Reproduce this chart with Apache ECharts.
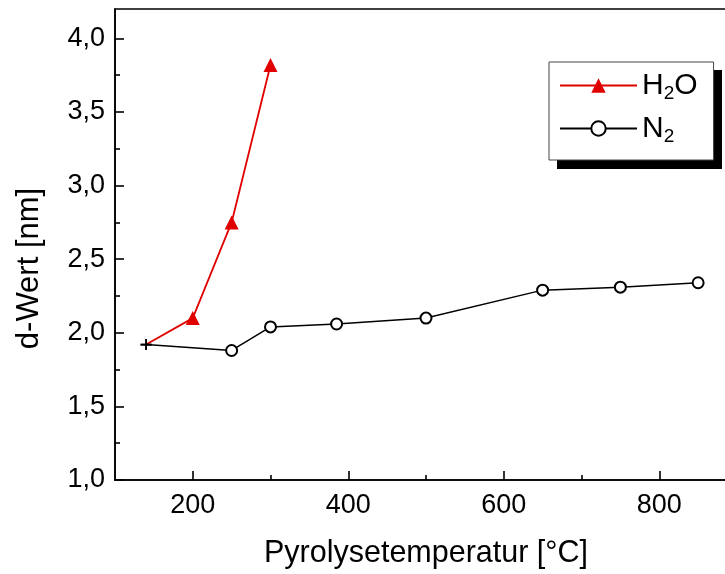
<!DOCTYPE html>
<html>
<head>
<meta charset="utf-8">
<script src="https://cdn.jsdelivr.net/npm/echarts@6/dist/echarts.min.js"></script>
<style>
html,body{margin:0;padding:0;background:#fff;}
#chart{width:725px;height:574px;}
</style>
</head>
<body>
<div id="chart"></div>
<script>
// Data
const h2oTemp = [140, 200, 250, 300];
const h2oD = [1.92, 2.10, 2.75, 3.82];
const n2Temp = [140, 250, 300, 385, 500, 650, 750, 850];
const n2D = [1.92, 1.88, 2.04, 2.06, 2.10, 2.29, 2.31, 2.34];
const xMajorTicks = [200, 400, 600, 800];
const xMinorTicks = [300, 500, 700];
const yMajorTicks = [1.0, 1.5, 2.0, 2.5, 3.0, 3.5, 4.0];
const yMinorTicks = [1.25, 1.75, 2.25, 2.75, 3.25, 3.75];
const seriesNames = ['H2O', 'N2'];

const plusPath = 'path://M0,5 L10,5 M5,0 L5,10';
const font = 'Liberation Sans, Arial, sans-serif';

function buildData(xs, ys, firstSymbol) {
  return xs.map((x, i) => {
    const item = { value: [x, ys[i]] };
    if (i === 0) {
      item.symbol = firstSymbol;
      item.symbolSize = 11;
      item.itemStyle = { color: '#000', borderColor: '#000', borderWidth: 1.6 };
    }
    return item;
  });
}

const chart = echarts.init(document.getElementById('chart'));
const option = {
  animation: false,
  backgroundColor: '#fff',
  grid: { left: 115, top: 9, right: -12, bottom: 94, outerBoundsMode: 'none', containLabel: false, show: true, borderColor: '#000', borderWidth: 1.6, backgroundColor: 'transparent' },
  graphic: [{
    type: 'rect', left: 557, top: 70, z: 0, zlevel: 0,
    shape: { width: 165, height: 99 },
    style: { fill: '#000' }
  }],
  legend: {
    data: seriesNames,
    orient: 'vertical',
    left: 549, top: 62,
    z: 10,
    backgroundColor: '#fff',
    borderColor: '#444', borderWidth: 1,
    padding: [6, 16, 14, 10],
    itemWidth: 77, itemHeight: 18, itemGap: 8,
    formatter: function (name) {
      return name === 'H2O' ? '{a|H}{s|2}{a|O}' : '{a|N}{s|2}';
    },
    textStyle: {
      color: '#000', fontFamily: font, fontSize: 30,
      rich: {
        a: { fontSize: 30, fontFamily: font, color: '#000', lineHeight: 34 },
        s: { fontSize: 19, fontFamily: font, color: '#000', lineHeight: 34, padding: [16, 0, 0, 0] }
      }
    }
  },
  xAxis: [{
    type: 'value', min: 100, max: 900,
    name: 'Pyrolysetemperatur [°C]', nameLocation: 'middle', nameGap: 58,
    nameTextStyle: { fontFamily: font, fontSize: 30.5, color: '#000' },
    axisLine: { show: true, onZero: false, lineStyle: { color: '#000', width: 1.6 } },
    axisTick: { show: true, inside: true, length: 9, customValues: xMajorTicks, lineStyle: { color: '#000', width: 1.6 } },
    axisLabel: { customValues: xMajorTicks, margin: 12, fontFamily: font, fontSize: 27, color: '#000' },
    splitLine: { show: false }
  }, {
    type: 'value', min: 100, max: 900, position: 'bottom',
    axisLine: { show: false },
    axisTick: { show: true, inside: true, length: 5, customValues: xMinorTicks, lineStyle: { color: '#000', width: 1.6 } },
    axisLabel: { show: false },
    splitLine: { show: false }
  }],
  yAxis: [{
    type: 'value', min: 1.0, max: 4.2,
    name: 'd-Wert [nm]', nameLocation: 'middle', nameGap: 70, nameRotate: 90,
    nameTextStyle: { fontFamily: font, fontSize: 31, color: '#000', padding: [0, 48, 0, 0] },
    axisLine: { show: true, onZero: false, lineStyle: { color: '#000', width: 1.6 } },
    axisTick: { show: true, inside: true, length: 9, customValues: yMajorTicks, lineStyle: { color: '#000', width: 1.6 } },
    axisLabel: {
      customValues: yMajorTicks, margin: 10, fontFamily: font, fontSize: 27, color: '#000',
      formatter: v => v.toFixed(1).replace('.', ',')
    },
    splitLine: { show: false }
  }, {
    type: 'value', min: 1.0, max: 4.2, position: 'left',
    axisLine: { show: false },
    axisTick: { show: true, inside: true, length: 5, customValues: yMinorTicks, lineStyle: { color: '#000', width: 1.6 } },
    axisLabel: { show: false },
    splitLine: { show: false }
  }],
  series: [{
    name: 'H2O', type: 'line',
    data: buildData(h2oTemp, h2oD, plusPath),
    symbol: 'triangle', symbolSize: 14,
    lineStyle: { color: '#e00000', width: 1.8 },
    itemStyle: { color: '#e00000' },
    z: 3
  }, {
    name: 'N2', type: 'line',
    data: buildData(n2Temp, n2D, plusPath),
    symbol: 'emptyCircle', symbolSize: 11,
    lineStyle: { color: '#000', width: 1.5 },
    itemStyle: { color: '#000', borderColor: '#000', borderWidth: 1.5 },
    z: 4
  }]
};
chart.setOption(option);
</script>
</body>
</html>
